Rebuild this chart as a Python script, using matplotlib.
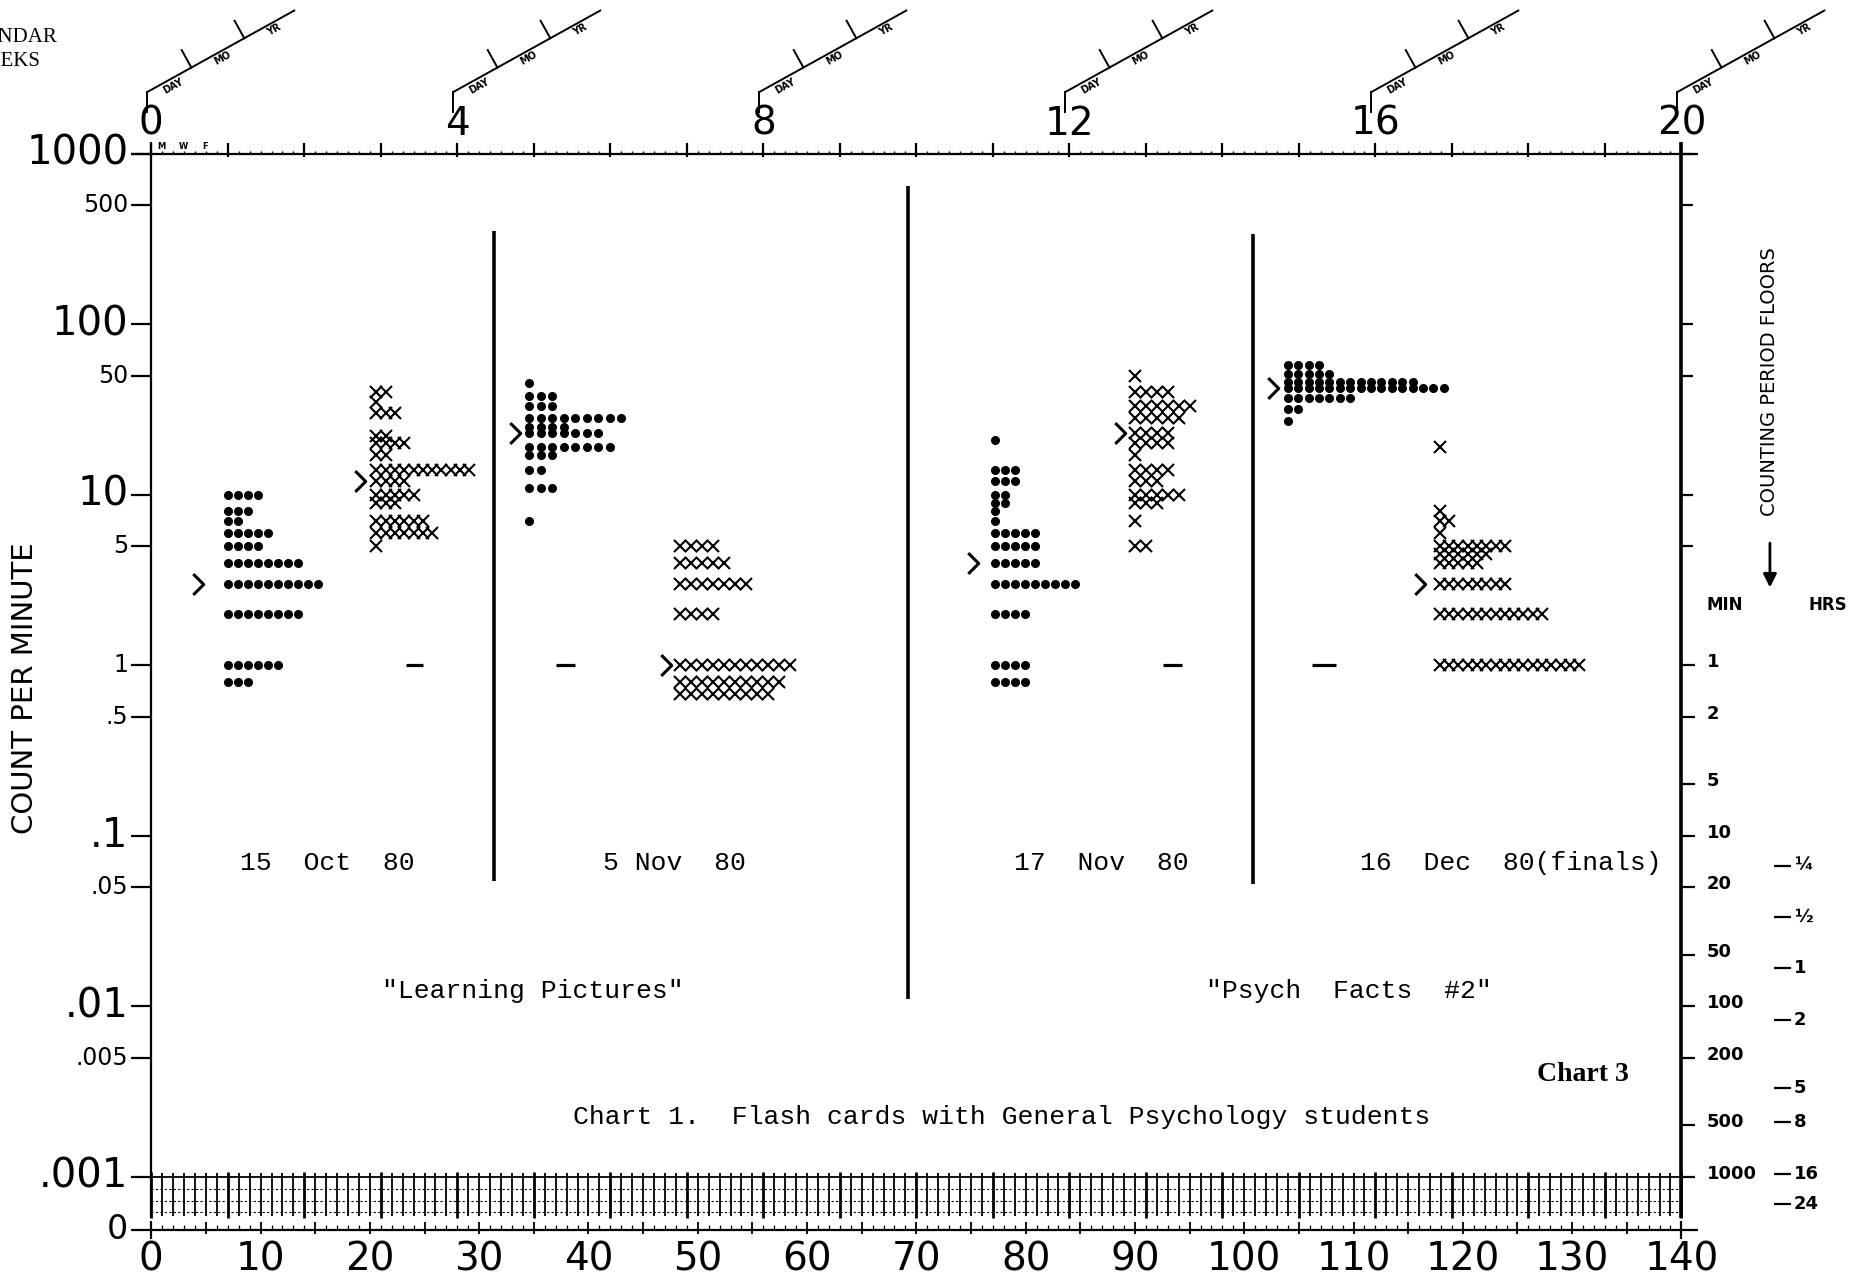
import math
import matplotlib
matplotlib.use('Agg')
import matplotlib.pyplot as plt
from matplotlib.path import Path

plt.rcParams['font.family'] = ['DejaVu Sans']

# ---- data: rate levels (count per minute) and how many
# students landed on each level, per session -------------------------------
oct15_dot_rates = [10, 8, 7, 6, 5, 4, 3, 2, 1, 0.8]
oct15_dot_counts = [4, 3, 2, 5, 4, 8, 10, 8, 6, 3]
oct15_x_rates = [40, 35, 30, 22, 20, 17, 14, 12, 10, 9, 7, 6, 5]
oct15_x_counts = [2, 1, 3, 2, 4, 2, 11, 4, 5, 3, 6, 7, 1]

nov5_dot_rates = [45, 38, 33, 28, 25, 23, 19, 17, 14, 11, 7]
nov5_dot_counts = [1, 3, 3, 9, 4, 7, 8, 3, 2, 3, 1]
nov5_x_rates = [5, 4, 3, 2, 1, 0.8, 0.68]
nov5_x_counts = [4, 5, 7, 4, 11, 10, 9]

nov17_dot_rates = [21, 14, 12, 10, 9, 8, 7, 6, 5, 4, 3, 2, 1, 0.8]
nov17_dot_counts = [1, 3, 3, 2, 2, 1, 1, 5, 5, 5, 9, 4, 4, 4]
nov17_x_rates = [50, 40, 33, 28, 23, 20, 17, 14, 12, 10, 9, 7, 5]
nov17_x_counts = [1, 4, 6, 5, 4, 4, 1, 4, 3, 5, 3, 1, 2]

dec16_dot_rates = [58, 51, 46, 42, 37, 32, 27]
dec16_dot_counts = [4, 5, 13, 16, 7, 2, 1]
dec16_x_rates = [19, 8, 7, 6, 5, 4.5, 4, 3, 2, 1]
dec16_x_counts = [1, 1, 2, 1, 8, 6, 5, 8, 12, 16]

# day each stack starts on (dots = correct, x = errors)
dot_days = [7.0, 34.6, 77.2, 104.0]
x_days = [20.6, 48.4, 90.0, 117.9]

# medians (">") and record floors ("-")
median_days = [4.3, 19.1, 33.3, 47.1, 75.2, 88.6, 102.6, 116.1]
median_rates = [3, 12, 23, 1, 4, 23, 42, 3]
floor_start = [23.3, 37.0, 92.6, 106.2]
floor_end = [24.9, 38.8, 94.3, 108.4]
floor_rate = [1, 1, 1, 1]

# phase change lines
phase_days = [31.4, 69.2, 100.8]
phase_top = [354, 650, 338]
phase_bottom = [0.054, 0.011, 0.052]

# axis scales
left_vals = [1000, 500, 100, 50, 10, 5, 1, 0.5, 0.1, 0.05, 0.01, 0.005, 0.001]
left_text = ['1000', '500', '100', '50', '10', '5', '1', '.5', '.1', '.05', '.01', '.005', '.001']
big_left = ['1000', '100', '10', '.1', '.01', '.001']
floor_minutes = [1, 2, 5, 10, 20, 50, 100, 200, 500, 1000]
hour_values = [0.25, 0.5, 1, 2, 5, 8, 16, 24]
hour_text = ['¼', '½', '1', '2', '5', '8', '16', '24']
week_numbers = [0, 4, 8, 12, 16, 20]
day_labels = list(range(0, 141, 10))

# ---- layout (pixels of the 1854x1285 sheet) ----
W, H = 1854, 1285
LEFT_PX, RIGHT_PX = 151.3, 1681.4
TOP_PX, DECADE_PX, BOTTOM_PX = 153.7, 170.5, 1245
ymin = 10 ** (3 - (BOTTOM_PX - TOP_PX) / DECADE_PX)
ZERO = 4.89e-4
BAND_LO = 5.9e-4


def up(rate, px):
    # shift a rate by px pixels on the log axis
    return rate * 10 ** (px / DECADE_PX)


fig = plt.figure(figsize=(W / 100, H / 100), dpi=100)
ax = fig.add_axes([LEFT_PX / W, 1 - BOTTOM_PX / H,
                   (RIGHT_PX - LEFT_PX) / W, (BOTTOM_PX - TOP_PX) / H])
ax.set_yscale('log')
ax.set_xlim(0, 140)
ax.set_ylim(ymin, 1000)
ax.axis('off')

K = dict(color='black', clip_on=False)

# frame
ax.vlines(0, BAND_LO * 0.97, up(1000, 12), lw=1.6, **K)
ax.vlines(140, BAND_LO * 0.97, up(1000, 12), lw=2.6, **K)
ax.hlines(1000, -1.9, 141.5, lw=1.6, **K)

# top day / week ticks
days = list(range(0, 141))
ax.vlines([d for d in days if d % 7], 1000, up(1000, 3), lw=1.0, **K)
ax.vlines([d for d in days if d % 7 == 0], up(1000, -3), up(1000, 11), lw=1.6, **K)
for d, s in zip([0.9, 2.9, 4.9], ['M', 'W', 'F']):
    ax.text(d, up(1000, 3), s, ha='center', va='bottom', fontsize=6, fontweight='bold')
for w in week_numbers:
    ax.text(7 * w, up(1000, 30), str(w), ha='center', va='center', fontsize=28)

# left scale
for v, t in zip(left_vals, left_text):
    ax.hlines(v, -1.9, 0, lw=1.6, **K)
    ax.text(-2.1, v, t, ha='right', va='center', fontsize=29 if t in big_left else 17)
ax.hlines(ZERO, -1.9, 141.5, lw=1.6, **K)
ax.text(-2.1, ZERO, '0', ha='right', va='center', fontsize=24)
ax.text(-11.6, 0.735, 'COUNT PER MINUTE', rotation=90, ha='center', va='center', fontsize=21)

# right scale ticks (upper part)
ax.hlines([1000, 500, 100, 50, 10, 5], 140, 141.1, lw=1.6, **K)

# record floor band below .001
for i, r in enumerate([1e-3, 8.5e-4, 7.2e-4, 6.2e-4]):
    ax.hlines(r, 0, 140, lw=1.3 if i == 0 else 0.8, ls='-' if i == 0 else (0, (2, 2)), **K)
ax.vlines([d for d in days if d % 7], BAND_LO, up(1e-3, 4), lw=1.3, **K)
ax.vlines([d for d in days if d % 7 == 0], BAND_LO * 0.97, up(1e-3, 5), lw=2.0, **K)

# zero row
ax.vlines([d for d in days if d % 5], ZERO, up(ZERO, 5), lw=0.9, **K)
ax.vlines([d for d in days if d % 5 == 0], up(ZERO, -4), up(ZERO, 8), lw=1.3, **K)
ax.vlines([0, 140], up(ZERO, -9), up(ZERO, 9), lw=1.6, **K)
for d in day_labels:
    ax.text(d, up(ZERO, -30), str(d), ha='center', va='center', fontsize=28)

# counting period floors
for m in floor_minutes:
    ax.hlines(1 / m, 140, 141.2, lw=1.6, **K)
    ax.text(142.3, up(1 / m, 3), str(m), ha='left', va='center', fontsize=13, fontweight='bold')
for h, t in zip(hour_values, hour_text):
    ax.hlines(1 / (60 * h), 148.5, 150.0, lw=1.6, **K)
    ax.text(150.3, 1 / (60 * h), t, ha='left', va='center', fontsize=13, fontweight='bold')
ax.text(142.3, 2.25, 'MIN', ha='left', va='center', fontsize=12, fontweight='bold')
ax.text(151.6, 2.25, 'HRS', ha='left', va='center', fontsize=12, fontweight='bold')
ax.text(148.1, 46, 'COUNTING PERIOD FLOORS', rotation=90, ha='center', va='center', fontsize=14)
ax.annotate('', xy=(148.1, 2.75), xytext=(148.1, 5.4), annotation_clip=False,
            arrowprops=dict(arrowstyle='-|>', lw=2, color='black', mutation_scale=20))

# phase lines
ax.vlines(phase_days, phase_bottom, phase_top, lw=2.6, **K)


# data stacks
def stack(start, step, rates, counts, **kw):
    xs, ys = [], []
    for r, n in zip(rates, counts):
        xs += [start + i * step for i in range(n)]
        ys += [r] * n
    ax.plot(xs, ys, ls='none', **K, **kw)


dot = dict(marker='o', ms=5.5)
cross = dict(marker='x', ms=9, mew=1.5)
stack(dot_days[0], 0.92, oct15_dot_rates, oct15_dot_counts, **dot)
stack(x_days[0], 0.85, oct15_x_rates, oct15_x_counts, **cross)
stack(dot_days[1], 1.05, nov5_dot_rates, nov5_dot_counts, **dot)
stack(x_days[1], 1.0, nov5_x_rates, nov5_x_counts, **cross)
stack(dot_days[2], 0.92, nov17_dot_rates, nov17_dot_counts, **dot)
stack(x_days[2], 1.0, nov17_x_rates, nov17_x_counts, **cross)
stack(dot_days[3], 0.95, dec16_dot_rates, dec16_dot_counts, **dot)
stack(x_days[3], 0.85, dec16_x_rates, dec16_x_counts, **cross)

# open chevron for the medians
chevron = Path([(-0.5, 1), (0.5, 0), (-0.5, -1)], [Path.MOVETO, Path.LINETO, Path.LINETO])
ax.plot(median_days, median_rates, ls='none', marker=chevron, ms=15, mfc='none',
        mew=2.2, **K)
ax.hlines(floor_rate, floor_start, floor_end, lw=2.3, **K)

# notes
mono = dict(family='Liberation Mono', fontsize=19, ha='left', va='center')
ax.text(8.1, 0.069, '15  Oct  80', **mono)
ax.text(41.3, 0.069, '5 Nov  80', **mono)
ax.text(78.9, 0.069, '17  Nov  80', **mono)
ax.text(110.6, 0.069, '16  Dec  80(finals)', **mono)
ax.text(21.1, 0.0123, '"Learning Pictures"', **mono)
ax.text(96.5, 0.0123, '"Psych  Facts  #2"', **mono)
ax.text(38.6, 0.00223, 'Chart 1.  Flash cards with General Psychology students', **mono)
ax.text(126.8, 0.00396, 'Chart 3', family='Liberation Serif', fontweight='bold',
        fontsize=20, ha='left', va='center')

# calendar-week header drawn in sheet pixels
ov = fig.add_axes([0, 0, 1, 1])
ov.set_xlim(0, W)
ov.set_ylim(H, 0)
ov.axis('off')
fig.text(57 / W, 1 - 38 / H, 'CALENDAR', family='Liberation Serif', fontsize=15, ha='right', va='center')
fig.text(41 / W, 1 - 62 / H, 'WEEKS', family='Liberation Serif', fontsize=15, ha='right', va='center')

ang = math.radians(29)
L = 168
ca, sa = math.cos(ang), math.sin(ang)
for w in week_numbers:
    xw = ax.transData.transform((7 * w, 1))[0] - 4
    y0 = 92
    ov.plot([xw, xw], [112, y0], color='black', lw=1.4)
    ov.plot([xw, xw + L * ca], [y0, y0 - L * sa], color='black', lw=1.4)
    for t in [0.30, 0.66]:
        px, py = xw + t * L * ca, y0 - t * L * sa
        ov.plot([px, px - 20 * sa], [py, py - 20 * ca], color='black', lw=1.4)
    for t, s in [(0.15, 'DAY'), (0.49, 'MO'), (0.84, 'YR')]:
        px, py = xw + t * L * ca + 7 * sa, y0 - t * L * sa + 7 * ca
        ov.text(px, py, s, rotation=29, ha='center', va='center', fontsize=7, fontweight='bold')

fig.savefig('out.png', dpi=100)
